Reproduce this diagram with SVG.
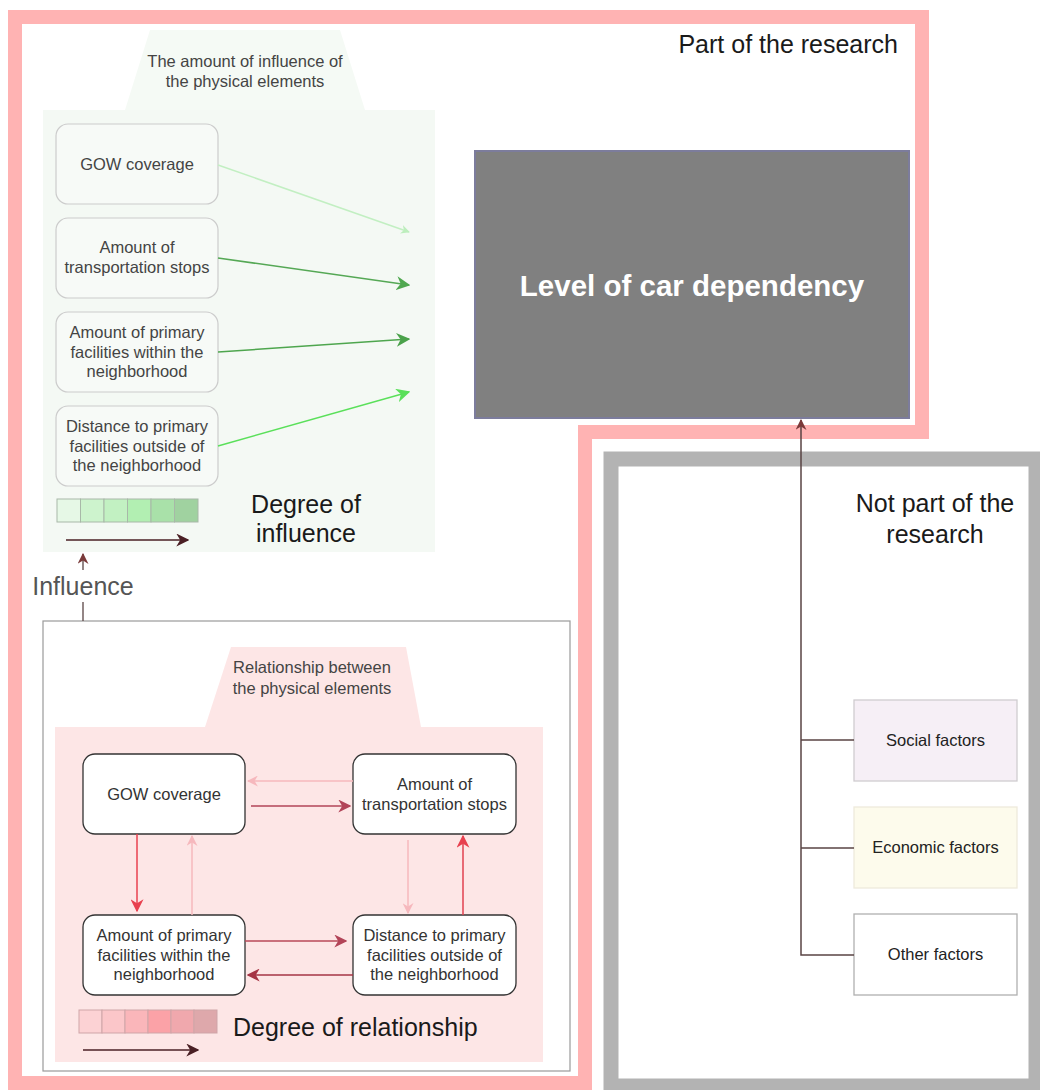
<svg xmlns="http://www.w3.org/2000/svg" width="1040" height="1090" viewBox="0 0 1040 1090">
<defs>
<style>
text{font-family:"Liberation Sans",Arial,sans-serif;}
.sm{font-size:16.5px;text-anchor:middle;}
.gt{fill:#444;}
.rt{fill:#333;}
.big{font-size:25px;fill:#1a1a1a;}
.gbox{fill:#f7faf7;stroke:#cccccc;stroke-width:1.2;}
.rbox{fill:#ffffff;stroke:#333333;stroke-width:1.3;}
.fbox{stroke-width:1.3;}
.conn{fill:none;stroke-width:1.5;}
</style>
<marker id="mG1" viewBox="0 0 10 10" refX="9" refY="5" markerWidth="9" markerHeight="9" markerUnits="userSpaceOnUse" orient="auto"><path d="M0,0 L10,5 L0,10 L3,5 Z" fill="#bdeebd"/></marker>
<marker id="mG2" viewBox="0 0 10 10" refX="9" refY="5" markerWidth="14" markerHeight="14" markerUnits="userSpaceOnUse" orient="auto"><path d="M0,0 L10,5 L0,10 L3,5 Z" fill="#4fa84f"/></marker>
<marker id="mG3" viewBox="0 0 10 10" refX="9" refY="5" markerWidth="14" markerHeight="14" markerUnits="userSpaceOnUse" orient="auto"><path d="M0,0 L10,5 L0,10 L3,5 Z" fill="#4aa24a"/></marker>
<marker id="mG4" viewBox="0 0 10 10" refX="9" refY="5" markerWidth="14" markerHeight="14" markerUnits="userSpaceOnUse" orient="auto"><path d="M0,0 L10,5 L0,10 L3,5 Z" fill="#5ae05a"/></marker>
<marker id="mRd" viewBox="0 0 10 10" refX="9" refY="5" markerWidth="13" markerHeight="13" markerUnits="userSpaceOnUse" orient="auto"><path d="M0,0 L10,5 L0,10 L3,5 Z" fill="#b24458"/></marker>
<marker id="mRr" viewBox="0 0 10 10" refX="9" refY="5" markerWidth="13" markerHeight="13" markerUnits="userSpaceOnUse" orient="auto"><path d="M0,0 L10,5 L0,10 L3,5 Z" fill="#e8404f"/></marker>
<marker id="mRl" viewBox="0 0 10 10" refX="9" refY="5" markerWidth="11" markerHeight="11" markerUnits="userSpaceOnUse" orient="auto"><path d="M0,0 L10,5 L0,10 L3,5 Z" fill="#f6b8bd"/></marker>
<marker id="mRk" viewBox="0 0 10 10" refX="9" refY="5" markerWidth="13" markerHeight="13" markerUnits="userSpaceOnUse" orient="auto"><path d="M0,0 L10,5 L0,10 L3,5 Z" fill="#a53545"/></marker>
<marker id="mD" viewBox="0 0 10 10" refX="9" refY="5" markerWidth="13" markerHeight="13" markerUnits="userSpaceOnUse" orient="auto"><path d="M0,0 L10,5 L0,10 L3,5 Z" fill="#4a1f24"/></marker>
<marker id="mB" viewBox="0 0 10 10" refX="9" refY="5" markerWidth="11" markerHeight="11" markerUnits="userSpaceOnUse" orient="auto"><path d="M0,0 L10,5 L0,10 L3,5 Z" fill="#7a3a3a"/></marker>
</defs>

<rect x="0" y="0" width="1040" height="1090" fill="#ffffff"/>

<!-- Part of the research frame -->
<g id="part-of-research">
<path d="M15,17 H922 V432 H585 V1083 H15 Z" fill="#ffffff" stroke="#ffb3b3" stroke-width="14"/>
<text class="big" x="898" y="53" text-anchor="end">Part of the research</text>
</g>

<!-- Not part of the research frame -->
<g id="not-part-of-research">
<rect x="611" y="459" width="425" height="627" fill="#ffffff" stroke="#b3b3b3" stroke-width="15"/>
<text class="big" x="935" y="512" text-anchor="middle">Not part of the</text>
<text class="big" x="935" y="543" text-anchor="middle">research</text>
</g>

<!-- Influence container -->
<g id="influence-container">
<polygon points="150,30 340,30 365,110 125,110" fill="#f5faf5"/>
<rect x="43" y="110" width="392" height="442" fill="#f4f9f4"/>
<text class="sm gt" x="245" y="67">The amount of influence of</text>
<text class="sm gt" x="245" y="87">the physical elements</text>
</g>

<g id="g-gow">
<rect class="gbox" x="56" y="124" width="162" height="80" rx="12"/>
<text class="sm gt" x="137" y="170">GOW coverage</text>
</g>
<g id="g-stops">
<rect class="gbox" x="56" y="218" width="162" height="80" rx="12"/>
<text class="sm gt" x="137" y="253">Amount of</text>
<text class="sm gt" x="137" y="273">transportation stops</text>
</g>
<g id="g-within">
<rect class="gbox" x="56" y="312" width="162" height="80" rx="12"/>
<text class="sm gt" x="137" y="338">Amount of primary</text>
<text class="sm gt" x="137" y="358">facilities within the</text>
<text class="sm gt" x="137" y="377">neighborhood</text>
</g>
<g id="g-outside">
<rect class="gbox" x="56" y="406" width="162" height="80" rx="12"/>
<text class="sm gt" x="137" y="432">Distance to primary</text>
<text class="sm gt" x="137" y="452">facilities outside of</text>
<text class="sm gt" x="137" y="471">the neighborhood</text>
</g>

<g id="g-legend">
<rect x="57" y="499" width="23.5" height="23" fill="#e6f8e6" stroke="#a8b8a8"/>
<rect x="80.5" y="499" width="23.5" height="23" fill="#cdf3cd" stroke="#a8b8a8"/>
<rect x="104" y="499" width="23.5" height="23" fill="#c2f1c2" stroke="#a8b8a8"/>
<rect x="127.5" y="499" width="23.5" height="23" fill="#b2efb2" stroke="#a8b8a8"/>
<rect x="151" y="499" width="23.5" height="23" fill="#a9e1a9" stroke="#a8b8a8"/>
<rect x="174.5" y="499" width="23.5" height="23" fill="#a0d2a0" stroke="#a8b8a8"/>
<line x1="66" y1="540" x2="188" y2="540" stroke="#4a1f24" stroke-width="1.6" marker-end="url(#mD)"/>
<text class="big" x="306" y="513" text-anchor="middle">Degree of</text>
<text class="big" x="306" y="542" text-anchor="middle">influence</text>
</g>

<!-- Level of car dependency -->
<g id="car-dependency">
<rect x="475" y="151" width="434" height="267" fill="#808080" stroke="#7c7c9c" stroke-width="2"/>
<text x="692" y="296" text-anchor="middle" font-size="29.5" font-weight="bold" fill="#ffffff">Level of car dependency</text>
</g>

<!-- Relationship container -->
<g id="relationship-container">
<rect x="43" y="621" width="527" height="450" fill="#ffffff" stroke="#9a9a9a" stroke-width="1.2"/>
<polygon points="231,647 406,647 421,727 205,727" fill="#fde6e6"/>
<rect x="55" y="727" width="488" height="335" fill="#fde6e6"/>
<text class="sm" x="312" y="673" fill="#444">Relationship between</text>
<text class="sm" x="312" y="694" fill="#444">the physical elements</text>
</g>

<g id="r-gow">
<rect class="rbox" x="83" y="754" width="162" height="80" rx="12"/>
<text class="sm rt" x="164" y="800">GOW coverage</text>
</g>
<g id="r-stops">
<rect class="rbox" x="353" y="754" width="163" height="80" rx="12"/>
<text class="sm rt" x="434.5" y="790">Amount of</text>
<text class="sm rt" x="434.5" y="810">transportation stops</text>
</g>
<g id="r-within">
<rect class="rbox" x="83" y="915" width="162" height="80" rx="12"/>
<text class="sm rt" x="164" y="941">Amount of primary</text>
<text class="sm rt" x="164" y="961">facilities within the</text>
<text class="sm rt" x="164" y="980">neighborhood</text>
</g>
<g id="r-outside">
<rect class="rbox" x="353" y="915" width="163" height="80" rx="12"/>
<text class="sm rt" x="434.5" y="941">Distance to primary</text>
<text class="sm rt" x="434.5" y="961">facilities outside of</text>
<text class="sm rt" x="434.5" y="980">the neighborhood</text>
</g>

<g id="r-legend">
<rect x="79" y="1010" width="23" height="23" fill="#fcd2d4" stroke="#cfa5a8"/>
<rect x="102" y="1010" width="23" height="23" fill="#fbc6c9" stroke="#cfa5a8"/>
<rect x="125" y="1010" width="23" height="23" fill="#fab6ba" stroke="#cfa5a8"/>
<rect x="148" y="1010" width="23" height="23" fill="#fba2a7" stroke="#cfa5a8"/>
<rect x="171" y="1010" width="23" height="23" fill="#f0a8ad" stroke="#cfa5a8"/>
<rect x="194" y="1010" width="23" height="23" fill="#dea8ab" stroke="#cfa5a8"/>
<line x1="83" y1="1050" x2="198" y2="1050" stroke="#4a1f24" stroke-width="1.6" marker-end="url(#mD)"/>
<text class="big" x="233" y="1036">Degree of relationship</text>
</g>

<!-- Factor boxes -->
<g id="social">
<rect class="fbox" x="854" y="700" width="163" height="81" fill="#f6eff6" stroke="#d0ccd0"/>
<text class="sm" x="935.5" y="746" fill="#222">Social factors</text>
</g>
<g id="economic">
<rect class="fbox" x="854" y="807" width="163" height="81" fill="#fdfbec" stroke="#eeeadc"/>
<text class="sm" x="935.5" y="853" fill="#222">Economic factors</text>
</g>
<g id="other">
<rect class="fbox" x="854" y="914" width="163" height="81" fill="#ffffff" stroke="#b0b0b0"/>
<text class="sm" x="935.5" y="960" fill="#222">Other factors</text>
</g>

<!-- Connectors -->
<g id="connectors">
<line class="conn" x1="218" y1="165" x2="409" y2="232" stroke="#c2efc2" marker-end="url(#mG1)"/>
<line class="conn" x1="218" y1="258" x2="409" y2="285" stroke="#55a855" marker-end="url(#mG2)"/>
<line class="conn" x1="218" y1="352" x2="409" y2="339" stroke="#4ea64e" marker-end="url(#mG3)"/>
<line class="conn" x1="218" y1="446" x2="409" y2="392" stroke="#5ae05a" marker-end="url(#mG4)"/>

<line x1="83" y1="621" x2="83" y2="602" stroke="#5a4545" stroke-width="1.3"/>
<line x1="83" y1="570" x2="83" y2="554" stroke="#5a4545" stroke-width="1.3" marker-end="url(#mB)"/>
<text x="83" y="595" text-anchor="middle" font-size="25" fill="#555">Influence</text>

<line class="conn" x1="251" y1="806" x2="350" y2="806" stroke="#b24458" marker-end="url(#mRd)"/>
<line class="conn" x1="353" y1="781" x2="248" y2="781" stroke="#f6b8bd" marker-end="url(#mRl)"/>
<line class="conn" x1="137" y1="834" x2="137" y2="911" stroke="#e8404f" marker-end="url(#mRr)"/>
<line class="conn" x1="192" y1="915" x2="192" y2="836" stroke="#f6b8bd" marker-end="url(#mRl)"/>
<line class="conn" x1="408" y1="840" x2="408" y2="913" stroke="#f6b8bd" marker-end="url(#mRl)"/>
<line class="conn" x1="463" y1="915" x2="463" y2="836" stroke="#e0404f" marker-end="url(#mRr)"/>
<line class="conn" x1="245" y1="941" x2="346" y2="941" stroke="#b84858" marker-end="url(#mRd)"/>
<line class="conn" x1="353" y1="975" x2="248" y2="975" stroke="#a53545" marker-end="url(#mRk)"/>

<path class="conn" d="M854,740 H801 M854,848 H801 M854,955 H801 V420" stroke="#5a4444" stroke-width="1.6" marker-end="url(#mB)"/>
</g>
</svg>
